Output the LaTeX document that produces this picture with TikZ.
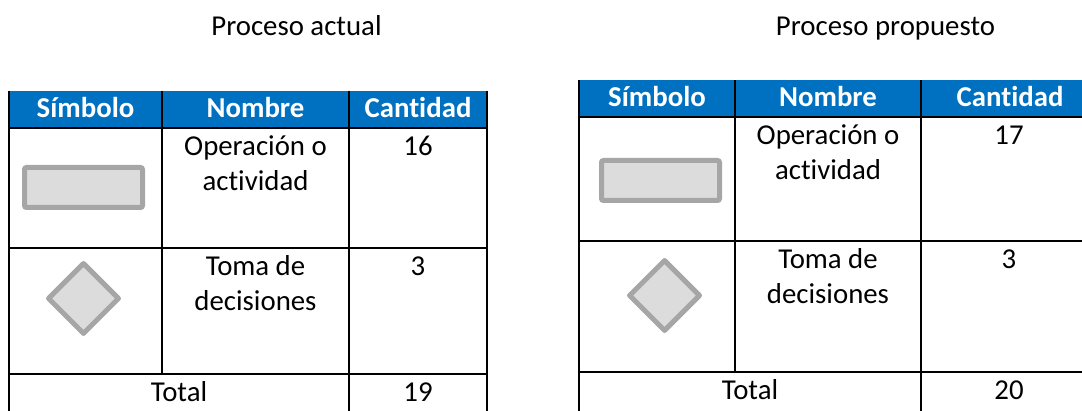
\documentclass[tikz,border=0pt]{standalone}
\usepackage{fontspec}
\setmainfont{Carlito}[Ligatures=CommonOff]
\usetikzlibrary{shapes.geometric}
\definecolor{hdrblue}{RGB}{0,112,192}
\definecolor{symfill}{RGB}{220,220,220}
\definecolor{symline}{RGB}{166,166,166}
\begin{document}
\begin{tikzpicture}[x=1pt,y=-1pt,
  txt/.style={inner sep=0pt, anchor=base, font=\fontsize{28.8}{35}\selectfont},
  cell/.style={txt, text width=180pt, align=flush center},
  hdr/.style={inner sep=0pt, anchor=base, font=\fontsize{28.8}{35}\selectfont\bfseries, text=white},
  grid/.style={line width=2.2pt, black},
  symrect/.style={draw=symline, fill=symfill, line width=5pt, rounded corners=2pt,
    minimum width=118pt, minimum height=40pt, inner sep=0pt},
  symdiam/.style={diamond, draw=symline, fill=symfill, line width=5pt, line join=round,
    minimum width=72pt, minimum height=72pt, inner sep=0pt, aspect=1}
]
\useasboundingbox (0,0) rectangle (1082,411);

% titles
\node[txt] (t1) at (296.5,36) {Proceso actual};
\node[txt] (t2) at (885.5,36) {Proceso propuesto};

% ---- left table ----
\fill[hdrblue] (9,91) rectangle (487,127);
\draw[grid] (9,91) -- (9,411);
\draw[grid] (162,91) -- (162,374);
\draw[grid] (349,91) -- (349,411);
\draw[grid] (487,91) -- (487,411);
\draw[grid] (9,128) -- (487,128);
\draw[grid] (9,248) -- (487,248);
\draw[grid] (9,374) -- (487,374);

\node[hdr] (l-h1) at (85.5,118) {Símbolo};
\node[hdr] (l-h2) at (255.5,118) {Nombre};
\node[hdr] (l-h3) at (418,118) {Cantidad};

\node[symrect] (l-rect) at (83.5,187.5) {};
\node[cell] (l-n1) at (255.5,156) {Operación o\\actividad};
\node[txt] (l-c1) at (418,156) {16};

\node[symdiam] (l-diam) at (83.5,298.5) {};
\node[cell] (l-n2) at (255.5,276) {Toma de\\decisiones};
\node[txt] (l-c2) at (418,276) {3};

\node[txt] (l-tot) at (179,402) {Total};
\node[txt] (l-c3) at (418,402) {19};

% ---- right table ----
\fill[hdrblue] (579,80) rectangle (1082,116);
\draw[grid] (579,80) -- (579,411);
\draw[grid] (735,80) -- (735,372);
\draw[grid] (921,80) -- (921,411);
\draw[grid] (579,117) -- (1082,117);
\draw[grid] (579,241) -- (1082,241);
\draw[grid] (579,372) -- (1082,372);

\node[hdr] (r-h1) at (657,107) {Símbolo};
\node[hdr] (r-h2) at (828,107) {Nombre};
\node[hdr] (r-h3) at (1010,107) {Cantidad};

\node[symrect] (r-rect) at (660.5,180.5) {};
\node[cell] (r-n1) at (828,145) {Operación o\\actividad};
\node[txt] (r-c1) at (1009,145) {17};

\node[symdiam] (r-diam) at (664.5,295.5) {};
\node[cell] (r-n2) at (828,269) {Toma de\\decisiones};
\node[txt] (r-c2) at (1009,269) {3};

\node[txt] (r-tot) at (750,400) {Total};
\node[txt] (r-c3) at (1009,400) {20};
\end{tikzpicture}
\end{document}
